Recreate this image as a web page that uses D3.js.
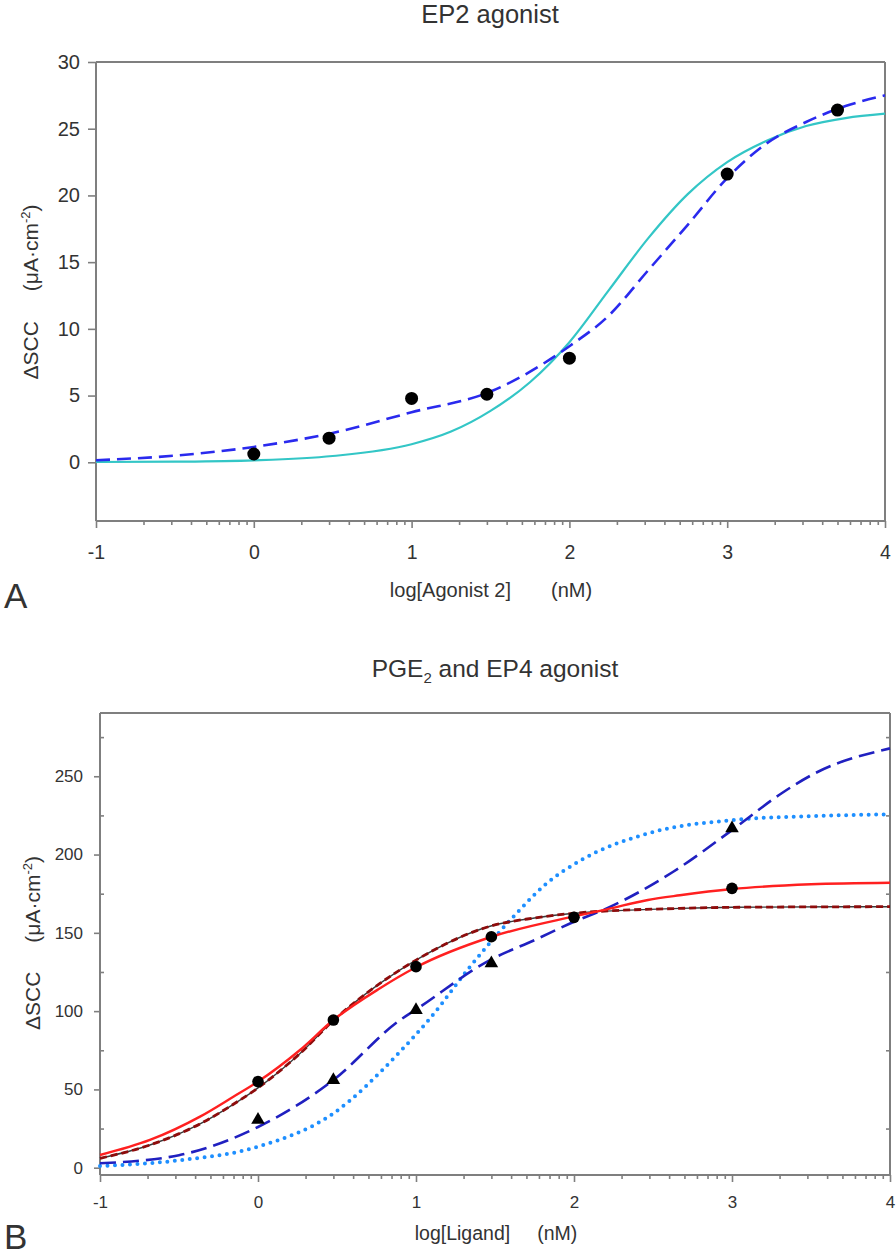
<!DOCTYPE html>
<html>
<head>
<meta charset="utf-8">
<script src="https://cdn.jsdelivr.net/npm/d3@7"></script>
<style>
  html, body { margin: 0; padding: 0; background: #fff; }
  svg { display: block; }
  text { font-family: "Liberation Sans", Arial, Helvetica, sans-serif; fill: #333; }
</style>
</head>
<body>
<svg id="chart" width="896" height="1256"></svg>
<script>
// ---------- DATA ----------
// Panel A: EP2 agonist
const aPointsX = [0, 0.477, 1, 1.477, 2, 3, 3.699];
const aPointsY = [0.62, 1.81, 4.79, 5.1, 7.8, 21.6, 26.4];
// cyan solid fit
const aCyanX = [-1, -0.5, 0, 0.5, 1, 1.25, 1.5, 1.75, 2, 2.25, 2.5, 2.75, 3, 3.25, 3.5, 3.75, 4];
const aCyanY = [0.02, 0.05, 0.15, 0.47, 1.35, 2.3, 3.85, 6.0, 9.0, 12.9, 16.8, 20.1, 22.5, 24.1, 25.2, 25.8, 26.13];
// blue dashed fit
const aDashX = [-1, -0.5, 0, 0.5, 1, 1.5, 2, 2.25, 2.5, 2.75, 3, 3.25, 3.5, 3.75, 4];
const aDashY = [0.15, 0.5, 1.15, 2.2, 3.75, 5.3, 8.7, 11.0, 14.4, 17.8, 21.3, 23.9, 25.5, 26.7, 27.5];
const aYTicks = [0, 5, 10, 15, 20, 25, 30];

// Panel B: PGE2 and EP4 agonist
const bCircleX = [0, 0.477, 1, 1.477, 2, 3];
const bCircleY = [55, 94.3, 128.4, 147.5, 159.9, 178.4];
const bTriX = [0, 0.477, 1, 1.477, 3];
const bTriY = [30.5, 56, 100.7, 130.5, 216.7];
// red solid fit
const bRedX = [-1, -0.684, -0.367, -0.156, 0, 0.266, 0.477, 0.772, 1, 1.479, 2, 2.207, 2.468, 2.67, 3, 3.5, 4];
const bRedY = [8.1, 17.7, 32.6, 45.3, 55, 75.2, 94.3, 114.6, 128, 147.5, 160.5, 165, 171, 174, 178, 181, 182];
// dark red / black dashed fit
const bDarkX = [-1, -0.684, -0.367, -0.156, 0, 0.266, 0.477, 0.772, 1, 1.479, 1.75, 2, 2.67, 3, 4];
const bDarkY = [6, 14.5, 28, 40.5, 51, 73, 94, 117.7, 132.6, 154.5, 159.5, 162.5, 165.6, 166.3, 166.7];
// light blue dotted fit
const bDotX = [-1, -0.5, 0, 0.477, 0.899, 1.089, 1.342, 1.616, 1.827, 2.046, 2.468, 3, 3.5, 4];
const bDotY = [1.1, 4.7, 13.4, 34.7, 74.1, 95.4, 128.4, 160.3, 181.6, 196.5, 213.5, 222, 224.5, 225.7];
// dark blue dashed fit
const bBlueX = [-1, -0.5, 0, 0.477, 0.899, 1, 1.468, 1.751, 2, 2.207, 2.628, 3, 3.312, 3.523, 4];
const bBlueY = [2.8, 8, 26, 56, 94.3, 101, 132.6, 145.4, 157.1, 165.6, 189, 215.6, 239, 251.8, 267.8];
const bYTicks = [0, 50, 100, 150, 200, 250];
const bYMinor = [25, 75, 125, 175, 225, 275];

// shared x axis
const xMajor = [-1, 0, 1, 2, 3, 4];
const xMajorLabels = ["-1", "0", "1", "2", "3", "4"];
const xMinorMultipliers = [2, 3, 4, 5, 6, 7, 8, 9];

// ---------- DRAWING ----------
const svg = d3.select("#chart");
const axisColor = "#7f7f7f";

const zip = (xs, ys) => xs.map((x, i) => [x, ys[i]]);
const minorX = [];
xMajor.slice(0, -1).forEach(d => xMinorMultipliers.forEach(m => minorX.push(d + Math.log10(m))));
const plainFmt = d => String(d);

function frame(g, x, y, sides) {
  const [x0, x1] = x.range();
  const [y0, y1] = y.range();
  const lines = [];
  if (sides.includes("l")) lines.push([x0, y0, x0, y1]);
  if (sides.includes("b")) lines.push([x0, y0, x1, y0]);
  if (sides.includes("t")) lines.push([x0, y1, x1, y1]);
  if (sides.includes("r")) lines.push([x1, y0, x1, y1]);
  g.selectAll("line.frame").data(lines).join("line").attr("class", "frame")
    .attr("x1", d => d[0]).attr("y1", d => d[1]).attr("x2", d => d[2]).attr("y2", d => d[3])
    .attr("stroke", axisColor).attr("stroke-width", 2);
}

function styleAxis(sel, fontSize) {
  sel.select(".domain").remove();
  sel.selectAll(".tick line").attr("stroke", axisColor).attr("stroke-width", 1.6);
  sel.selectAll(".tick text").attr("font-size", fontSize).attr("fill", "#3a3a3a")
     .attr("font-family", '"Liberation Sans", Arial, sans-serif');
}

function drawXAxis(g, x, y0, fontSize, pad) {
  g.append("g").attr("transform", `translate(0,${y0})`)
    .call(d3.axisBottom(x).tickValues(xMajor).tickSize(7).tickSizeOuter(0).tickPadding(pad)
      .tickFormat((d, i) => xMajorLabels[i]))
    .call(s => styleAxis(s, fontSize));
  g.append("g").attr("transform", `translate(0,${y0})`)
    .call(d3.axisBottom(x).tickValues(minorX).tickSize(4).tickSizeOuter(0).tickFormat(""))
    .call(s => styleAxis(s, fontSize));
}

function yLabel(g, xBase, yCenter, fontSize, gap) {
  const t = g.append("text")
    .attr("transform", `translate(${xBase},${yCenter}) rotate(-90)`)
    .attr("text-anchor", "middle").attr("font-size", fontSize).attr("fill", "#333");
  t.append("tspan").text("ΔSCC");
  t.append("tspan").attr("dx", gap).text("(μA·cm");
  t.append("tspan").attr("dy", -8).attr("font-size", fontSize * 0.62).text("-2");
  t.append("tspan").attr("dy", 8).text(")");
}

function xLabel(g, xCenter, yBase, fontSize, main, gap) {
  const t = g.append("text").attr("x", xCenter).attr("y", yBase)
    .attr("text-anchor", "middle").attr("font-size", fontSize).attr("fill", "#333");
  t.append("tspan").text(main);
  t.append("tspan").attr("dx", gap).text("(nM)");
}

// ===== Panel A =====
{
  const g = svg.append("g");
  const x = d3.scaleLinear().domain([-1, 4]).range([96, 885]);
  const y = d3.scaleLinear().domain([-4.4, 30]).range([521, 62]);

  g.append("text").attr("x", 490).attr("y", 23).attr("text-anchor", "middle")
    .attr("font-size", 25.5).attr("fill", "#222").text("EP2 agonist");

  frame(g, x, y, "lbtr");
  g.append("g").attr("transform", `translate(96,0)`)
    .call(d3.axisLeft(y).tickValues(aYTicks).tickSize(8).tickSizeOuter(0).tickPadding(8).tickFormat(plainFmt))
    .call(s => styleAxis(s, 20));
  drawXAxis(g, x, 521, 19.5, 17);

  const line = d3.line().x(d => x(d[0])).y(d => y(d[1])).curve(d3.curveMonotoneX);
  g.append("path").datum(zip(aCyanX, aCyanY)).attr("d", line)
    .attr("fill", "none").attr("stroke", "#33c6c6").attr("stroke-width", 2.2);
  g.append("path").datum(zip(aDashX, aDashY)).attr("d", line)
    .attr("fill", "none").attr("stroke", "#2a2aee").attr("stroke-width", 2.6)
    .attr("stroke-dasharray", "14,7");

  g.selectAll("circle.pt").data(zip(aPointsX, aPointsY)).join("circle").attr("class", "pt")
    .attr("cx", d => x(d[0])).attr("cy", d => y(d[1])).attr("r", 6.5).attr("fill", "#000");

  yLabel(g, 38, 292, 21, 30);
  xLabel(g, 491, 597, 20, "log[Agonist 2]", 40);
  g.append("text").attr("x", 4).attr("y", 608).attr("font-size", 35).attr("fill", "#111").text("A");
}

// ===== Panel B =====
{
  const g = svg.append("g");
  const x = d3.scaleLinear().domain([-1, 4]).range([100, 890]);
  const y = d3.scaleLinear().domain([-4.66, 290.4]).range([1175, 713]);

  const title = g.append("text").attr("x", 495).attr("y", 677).attr("text-anchor", "middle")
    .attr("font-size", 24.5).attr("fill", "#222");
  title.append("tspan").text("PGE");
  title.append("tspan").attr("dy", 6).attr("font-size", 15).text("2");
  title.append("tspan").attr("dy", -6).text(" and EP4 agonist");

  frame(g, x, y, "lbtr");
  g.append("g").attr("transform", `translate(100,0)`)
    .call(d3.axisLeft(y).tickValues(bYTicks).tickSize(6).tickSizeOuter(0).tickPadding(11).tickFormat(plainFmt))
    .call(s => styleAxis(s, 17));
  g.append("g").attr("transform", `translate(100,0)`)
    .call(d3.axisRight(y).tickValues(bYMinor).tickSize(4).tickSizeOuter(0).tickFormat(""))
    .call(s => styleAxis(s, 17));
  g.append("g").attr("transform", `translate(890,0)`)
    .call(d3.axisLeft(y).tickValues(bYMinor).tickSize(4).tickSizeOuter(0).tickFormat(""))
    .call(s => styleAxis(s, 17));
  drawXAxis(g, x, 1175, 17, 14);

  const line = d3.line().x(d => x(d[0])).y(d => y(d[1])).curve(d3.curveMonotoneX);
  g.append("path").datum(zip(bDotX, bDotY)).attr("d", line)
    .attr("fill", "none").attr("stroke", "#1e8fff").attr("stroke-width", 4)
    .attr("stroke-linecap", "round").attr("stroke-dasharray", "0,7.5");
  g.append("path").datum(zip(bBlueX, bBlueY)).attr("d", line)
    .attr("fill", "none").attr("stroke", "#2020c0").attr("stroke-width", 2.6)
    .attr("stroke-dasharray", "16,7");
  g.append("path").datum(zip(bDarkX, bDarkY)).attr("d", line)
    .attr("fill", "none").attr("stroke", "#3a3a3a").attr("stroke-width", 1.4);
  g.append("path").datum(zip(bDarkX, bDarkY)).attr("d", line)
    .attr("fill", "none").attr("stroke", "#8e0c0c").attr("stroke-width", 2.8)
    .attr("stroke-dasharray", "7,4");
  g.append("path").datum(zip(bRedX, bRedY)).attr("d", line)
    .attr("fill", "none").attr("stroke", "#ff2020").attr("stroke-width", 2.4);

  g.selectAll("circle.pt").data(zip(bCircleX, bCircleY)).join("circle").attr("class", "pt")
    .attr("cx", d => x(d[0])).attr("cy", d => y(d[1])).attr("r", 5.8).attr("fill", "#000");
  const tri = d3.symbol().type(d3.symbolTriangle).size(80);
  g.selectAll("path.tri").data(zip(bTriX, bTriY)).join("path").attr("class", "tri")
    .attr("d", tri).attr("transform", d => `translate(${x(d[0])},${y(d[1])})`).attr("fill", "#000");

  yLabel(g, 40, 943, 21, 29);
  xLabel(g, 496, 1240, 19.5, "log[Ligand]", 27);
  g.append("text").attr("x", 4).attr("y", 1249).attr("font-size", 35).attr("fill", "#111").text("B");
}
</script>
</body>
</html>
